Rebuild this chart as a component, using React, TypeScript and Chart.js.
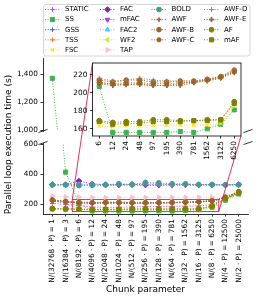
import React, { useEffect, useRef } from 'react';
import { Chart, registerables } from 'chart.js';
import { drawPoint } from 'chart.js/helpers';

Chart.register(...registerables);

// ---------------- data ----------------
const chunkLabels = [
  'N/(32768 · P) = 1', 'N/(16384 · P) = 3', 'N/(8192 · P) = 6', 'N/(4096 · P) = 12',
  'N/(2048 · P) = 24', 'N/(1024 · P) = 48', 'N/(512 · P) = 97', 'N/(256 · P) = 195',
  'N/(128 · P) = 390', 'N/(64 · P) = 781', 'N/(32 · P) = 1562', 'N/(16 · P) = 3125',
  'N/(8 · P) = 6250', 'N/(4 · P) = 12500', 'N/(2 · P) = 25000',
];
const insetLabels = ['6', '12', '24', '48', '97', '195', '390', '781', '1562', '3125', '6250'];
const insetFirst = 2; // index of '6' in chunkLabels
const insetLast = 12; // index of '6250' in chunkLabels

const upperTicks = [1000, 1200, 1400];
const lowerTicks = [200, 400, 600];
const insetTicks = [160, 180, 200, 220];

const STATIC = [206, 200, 192, 182, 180, 181, 183, 185, 186, 187, 188, 190, 198, 236, 272];
const SS = [1371, 415, 207, 156, 156, 156, 156, 156, 157, 156, 160, 165, 181, 228, 268];
const GSS = [220, 214, 211, 209, 210, 210, 209, 209, 210, 211, 213, 216, 222, 244, 280];
const TSS = [224, 216, 212, 210, 211, 211, 210, 210, 211, 212, 214, 217, 223, 246, 281];
const FSC = [165, 164, 163, 162, 163, 163, 164, 164, 164, 164, 164, 166, 185, 230, 270];
const FAC = [333, 332, 356, 336, 332, 330, 334, 330, 330, 332, 332, 331, 332, 330, 333];
const mFAC = [328, 329, 331, 330, 328, 327, 329, 327, 328, 328, 328, 327, 329, 328, 331];
const FAC2 = [331, 330, 332, 331, 330, 334, 332, 341, 338, 334, 334, 331, 331, 330, 331];
const WF2 = [168, 167, 166, 165, 165, 166, 166, 167, 167, 167, 168, 169, 187, 233, 273];
const TAP = [255, 251, 248, 246, 246, 246, 247, 247, 247, 247, 247, 247, 248, 252, 266];
const BOLD = [330, 330, 325, 328, 330, 337, 332, 346, 343, 337, 337, 332, 331, 330, 331];
const AWF = [222, 215, 210, 208, 209, 209, 208, 208, 208, 211, 213, 216, 222, 245, 282];
const AWF_B = [230, 220, 214, 212, 214, 214, 212, 212, 213, 213, 215, 218, 225, 248, 285];
const AWF_C = [226, 217, 211, 210, 211, 211, 210, 210, 211, 212, 214, 217, 224, 246, 283];
const AWF_D = [232, 221, 216, 213, 214, 216, 214, 213, 213, 213, 215, 218, 226, 250, 287];
const AWF_E = [227, 218, 212, 209, 209, 210, 208, 208, 210, 212, 214, 217, 223, 247, 284];
const AF = [172, 171, 169, 167, 168, 168, 170, 170, 169, 169, 170, 170, 190, 238, 278];
const mAF = [170, 169, 168, 165, 166, 166, 168, 168, 168, 169, 169, 170, 188, 235, 275];

const seriesNames = ['STATIC', 'SS', 'GSS', 'TSS', 'FSC', 'FAC', 'mFAC', 'FAC2', 'WF2', 'TAP',
  'BOLD', 'AWF', 'AWF-B', 'AWF-C', 'AWF-D', 'AWF-E', 'AF', 'mAF'];
const seriesValues: Record<string, number[]> = {
  STATIC, SS, GSS, TSS, FSC, FAC, mFAC, FAC2, WF2, TAP, BOLD, AWF,
  'AWF-B': AWF_B, 'AWF-C': AWF_C, 'AWF-D': AWF_D, 'AWF-E': AWF_E, AF, mAF,
};
const insetNames = ['SS', 'FSC', 'AWF', 'AWF-B', 'AWF-C', 'AWF-D', 'AWF-E', 'AF', 'mAF'];

// ---------------- styles ----------------
type Sty = { color: string; marker: string; rot?: number; r?: number; bw?: number };
const styles: Record<string, Sty> = {
  STATIC: { color: '#f032e6', marker: 'cross', r: 2.3, bw: 1 },
  SS: { color: '#3cb44b', marker: 'rect', r: 2.9 },
  GSS: { color: '#4363d8', marker: 'cross', r: 2.3, bw: 1 },
  TSS: { color: '#f58231', marker: 'cross', r: 2.3, bw: 1.2 },
  FSC: { color: '#ffe119', marker: 'crossRot', r: 2.3, bw: 1.1 },
  FAC: { color: '#911eb4', marker: 'rectRot', r: 2.8 },
  mFAC: { color: '#a63fd9', marker: 'triangle', rot: 180, r: 2.7 },
  FAC2: { color: '#42d4f4', marker: 'triangle', r: 2.7 },
  WF2: { color: '#bfef45', marker: 'triangle', rot: 270, r: 2.7 },
  TAP: { color: '#fabed4', marker: 'triangle', rot: 90, r: 2.7 },
  BOLD: { color: '#469990', marker: 'circle', r: 2.4 },
  AWF: { color: '#9a6324', marker: 'cross', r: 2.4, bw: 1.5 },
  'AWF-B': { color: '#9a6324', marker: 'circle', r: 2.3 },
  'AWF-C': { color: '#9a6324', marker: 'circle', r: 2.1 },
  'AWF-D': { color: '#a67a4a', marker: 'cross', r: 2.4, bw: 1 },
  'AWF-E': { color: '#9a6324', marker: 'cross', r: 2.5, bw: 1.6 },
  AF: { color: '#808000', marker: 'circle', r: 2.4 },
  mAF: { color: '#808000', marker: 'rect', r: 2.9 },
};

const W = 258;
const H = 298;
const FONT = '"DejaVu Sans", sans-serif';
const tickFont = { family: FONT, size: 7.3 };
const DOT = [1, 1.65];
const connectorColor = '#e6194b';

// layout (page pixels)
const AX_L = 43, AX_R = 248;
const UP_T = 58, UP_B = 131;
const LO_T = 143, LO_B = 214;
const IN_L = 92.5, IN_R = 241, IN_T = 63, IN_B = 136;
const upperRange = [995, 1516];
const lowerRange = [136, 609];
const insetRange = [152, 233];

function dataset(name: string, values: number[], idx: number, total: number) {
  const st = styles[name];
  return {
    label: name,
    data: values.map((v, i) => ({ x: i, y: v })),
    borderColor: st.color,
    backgroundColor: st.color,
    borderWidth: 1,
    borderDash: DOT,
    pointStyle: st.marker,
    pointRotation: st.rot ?? 0,
    pointRadius: st.r ?? 2.3,
    pointBorderWidth: st.bw ?? 1,
    pointBackgroundColor: st.color,
    pointBorderColor: st.color,
    fill: false,
    tension: 0,
    order: total - idx,
  };
}

function yAxis(range: number[], ticks: number[], width: number, show = true) {
  return {
    type: 'linear',
    position: 'left',
    min: range[0],
    max: range[1],
    afterBuildTicks: (s: any) => { s.ticks = ticks.map((v) => ({ value: v })); },
    afterFit: (s: any) => { s.width = width; },
    ticks: { font: tickFont, color: '#000', padding: 2.6, callback: (v: any) => Number(v).toLocaleString('en-US') },
    grid: { drawOnChartArea: false, drawTicks: true, tickLength: 2.6, color: '#000', lineWidth: 0.8 },
    border: { display: show, color: '#000', width: 0.8 },
  };
}

function xAxis(labels: string[], margin: number, height: number, display: boolean, title?: string) {
  return {
    type: 'linear',
    display,
    min: -margin,
    max: labels.length - 1 + margin,
    afterBuildTicks: (s: any) => { s.ticks = labels.map((_, i) => ({ value: i })); },
    afterFit: (s: any) => { s.height = height; },
    ticks: {
      autoSkip: false, maxRotation: 90, minRotation: 90, font: tickFont, color: '#000', padding: 2.6,
      callback: (v: any) => labels[Math.round(Number(v))] ?? '',
    },
    grid: { drawOnChartArea: false, drawTicks: true, tickLength: 2.6, color: '#000', lineWidth: 0.8 },
    border: { display: true, color: '#000', width: 0.8 },
    title: title
      ? { display: true, text: title, font: { family: FONT, size: 9 }, color: '#000', padding: { top: 0, bottom: 3.2 } }
      : { display: false },
  };
}

function breakMarks(edge: 'top' | 'bottom') {
  return {
    id: 'break-' + edge,
    afterDraw(chart: any) {
      const { ctx, chartArea: a } = chart;
      const d = 0.022;
      const dx = d * (a.right - a.left);
      const dy = d * (a.bottom - a.top);
      const y = edge === 'top' ? a.top : a.bottom;
      ctx.save();
      ctx.strokeStyle = '#000';
      ctx.lineWidth = 0.8;
      ctx.beginPath();
      [a.left, a.right].forEach((x: number) => {
        ctx.moveTo(x - dx, y + dy);
        ctx.lineTo(x + dx, y - dy);
      });
      ctx.stroke();
      ctx.restore();
    },
  };
}

const legendCols = [45, 100, 151.5, 204];
const legendPerCol = [5, 5, 4, 4];
const legendRow0 = 9.5;
const legendRowGap = 10.1;

const legendPlugin = {
  id: 'gridLegend',
  afterDraw(chart: any) {
    const ctx = chart.ctx as CanvasRenderingContext2D;
    ctx.save();
    const bx = 43.5, by = 4.5, bw = 206.5, bh = 51.5, r = 2.5;
    ctx.beginPath();
    ctx.moveTo(bx + r, by);
    ctx.arcTo(bx + bw, by, bx + bw, by + bh, r);
    ctx.arcTo(bx + bw, by + bh, bx, by + bh, r);
    ctx.arcTo(bx, by + bh, bx, by, r);
    ctx.arcTo(bx, by, bx + bw, by, r);
    ctx.closePath();
    ctx.fillStyle = 'rgba(255,255,255,0.8)';
    ctx.fill();
    ctx.strokeStyle = '#cccccc';
    ctx.lineWidth = 0.8;
    ctx.stroke();
    let idx = 0;
    legendPerCol.forEach((n, c) => {
      for (let row = 0; row < n; row++, idx++) {
        const name = seriesNames[idx];
        const st = styles[name];
        const y = legendRow0 + row * legendRowGap;
        const hx = legendCols[c];
        ctx.setLineDash(DOT);
        ctx.lineWidth = 1;
        ctx.strokeStyle = st.color;
        ctx.beginPath();
        ctx.moveTo(hx, y);
        ctx.lineTo(hx + 15, y);
        ctx.stroke();
        ctx.setLineDash([]);
        ctx.fillStyle = st.color;
        ctx.strokeStyle = st.color;
        ctx.lineWidth = st.bw ?? 1;
        drawPoint(ctx, { pointStyle: st.marker, rotation: st.rot ?? 0, radius: st.r ?? 2.3, borderWidth: st.bw ?? 1 } as any, hx + 7.5, y);
        ctx.fillStyle = '#000';
        ctx.font = `7px ${FONT}`;
        ctx.textBaseline = 'middle';
        ctx.textAlign = 'left';
        ctx.fillText(name, hx + 20, y);
      }
    });
    ctx.restore();
  },
};

const yTitlePlugin = {
  id: 'yTitle',
  afterDraw(chart: any) {
    const ctx = chart.ctx;
    ctx.save();
    ctx.translate(8.5, 144.5);
    ctx.rotate(-Math.PI / 2);
    ctx.font = `9px ${FONT}`;
    ctx.fillStyle = '#000';
    ctx.textAlign = 'center';
    ctx.textBaseline = 'middle';
    ctx.fillText('Parallel loop execution time (s)', 0, 0);
    ctx.restore();
  },
};

const zoomRectPlugin = {
  id: 'zoomRect',
  beforeDatasetsDraw(chart: any) {
    const { ctx } = chart;
    const xs = chart.scales.x, ys = chart.scales.y;
    const x1 = xs.getPixelForValue(insetFirst - 0.5), x2 = xs.getPixelForValue(insetLast + 0.5);
    const y1 = ys.getPixelForValue(insetRange[1]), y2 = ys.getPixelForValue(insetRange[0]);
    ctx.save();
    ctx.strokeStyle = connectorColor;
    ctx.lineWidth = 0.9;
    ctx.strokeRect(x1, y1, x2 - x1, y2 - y1);
    ctx.restore();
  },
};

function insetDecor(lower: any) {
  return {
    id: 'insetDecor',
    beforeDraw(chart: any) {
      const { ctx, chartArea: a } = chart;
      const xs = lower.scales.x, ys = lower.scales.y;
      const x1 = xs.getPixelForValue(insetFirst - 0.5), x2 = xs.getPixelForValue(insetLast + 0.5);
      const yT = ys.getPixelForValue(insetRange[1]), yB = ys.getPixelForValue(insetRange[0]);
      ctx.save();
      ctx.strokeStyle = connectorColor;
      ctx.lineWidth = 0.9;
      ctx.beginPath();
      ctx.moveTo(x1, yT);
      ctx.lineTo(a.left, a.top);
      ctx.moveTo(x2, yB);
      ctx.lineTo(a.right, a.bottom);
      ctx.stroke();
      ctx.fillStyle = '#fff';
      ctx.fillRect(a.left, a.top, a.right - a.left, a.bottom - a.top);
      ctx.restore();
    },
    afterDraw(chart: any) {
      const { ctx, chartArea: a } = chart;
      ctx.save();
      ctx.strokeStyle = '#000';
      ctx.lineWidth = 0.8;
      ctx.strokeRect(a.left, a.top, a.right - a.left, a.bottom - a.top);
      ctx.restore();
    },
  };
}

const common = {
  responsive: false,
  animation: false as const,
  devicePixelRatio: 1,
  events: [] as any[],
  plugins: { legend: { display: false }, tooltip: { enabled: false } },
};

export default function App() {
  const lowerRef = useRef<HTMLCanvasElement>(null);
  const upperRef = useRef<HTMLCanvasElement>(null);
  const insetRef = useRef<HTMLCanvasElement>(null);

  useEffect(() => {
    const n = seriesNames.length;
    const allSets = () => seriesNames.map((nm, i) => dataset(nm, seriesValues[nm], i, n));

    const lower = new Chart(lowerRef.current!, {
      type: 'line',
      data: { datasets: allSets() as any },
      options: {
        ...common,
        layout: { padding: { left: 0, top: LO_T, right: W - AX_R, bottom: 0 } },
        scales: {
          x: xAxis(chunkLabels, 0.7, H - LO_B, true, 'Chunk parameter') as any,
          y: yAxis(lowerRange, lowerTicks, AX_L) as any,
        },
      } as any,
      plugins: [zoomRectPlugin, breakMarks('top'), yTitlePlugin],
    });

    const upper = new Chart(upperRef.current!, {
      type: 'line',
      data: { datasets: allSets() as any },
      options: {
        ...common,
        layout: { padding: { left: 0, top: UP_T, right: W - AX_R, bottom: H - UP_B } },
        scales: {
          x: xAxis(chunkLabels, 0.7, 0, false) as any,
          y: yAxis(upperRange, upperTicks, AX_L) as any,
        },
      } as any,
      plugins: [breakMarks('bottom'), legendPlugin],
    });

    const inset = new Chart(insetRef.current!, {
      type: 'line',
      data: {
        datasets: insetNames.map((nm) =>
          dataset(nm, seriesValues[nm].slice(insetFirst, insetLast + 1), seriesNames.indexOf(nm), n)) as any,
      },
      options: {
        ...common,
        layout: { padding: { left: IN_L - 20, top: IN_T, right: W - IN_R, bottom: 0 } },
        scales: {
          x: { ...xAxis(insetLabels, 0.5, H - IN_B, true), border: { display: false } } as any,
          y: { ...yAxis(insetRange, insetTicks, 20), border: { display: false } } as any,
        },
      } as any,
      plugins: [insetDecor(lower)],
    });

    return () => {
      inset.destroy();
      upper.destroy();
      lower.destroy();
    };
  }, []);

  const cs: React.CSSProperties = { position: 'absolute', left: 0, top: 0 };
  return (
    <div style={{ position: 'absolute', left: 0, top: 0, width: W, height: H, background: '#fff' }}>
      <canvas ref={lowerRef} width={W} height={H} style={cs} />
      <canvas ref={upperRef} width={W} height={H} style={cs} />
      <canvas ref={insetRef} width={W} height={H} style={cs} />
    </div>
  );
}
